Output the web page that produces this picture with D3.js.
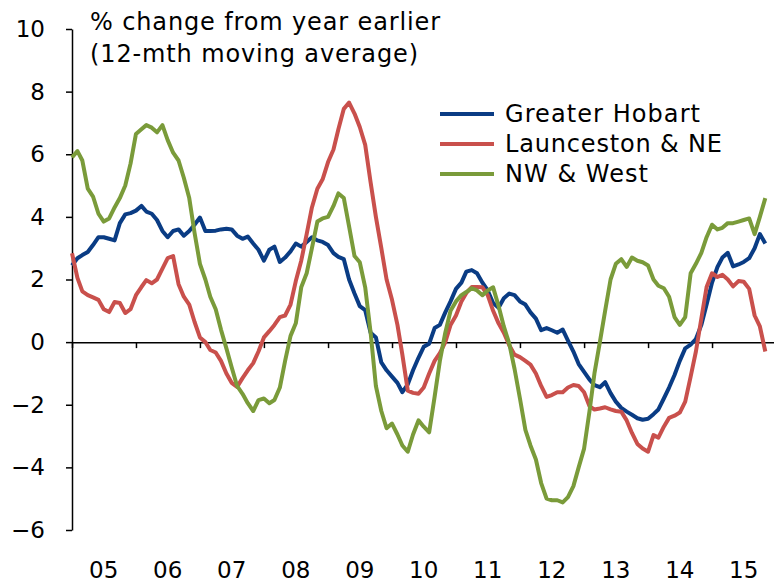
<!DOCTYPE html>
<html>
<head>
<meta charset="utf-8">
<script src="https://cdnjs.cloudflare.com/ajax/libs/d3/7.8.5/d3.min.js"></script>
<style>
  html, body { margin: 0; padding: 0; background: #ffffff; }
  svg { display: block; }
  text { font-family: "DejaVu Sans", sans-serif; fill: #000; }
</style>
</head>
<body>
<div id="chart"></div>
<script>
// ---- DATA (monthly, Jan 2005 – Nov 2015) ----
const startYear = 2005;
const startMonth = 0;

const greaterHobart = [
  2.45, 2.68, 2.78, 2.88, 3.1, 3.35, 3.35, 3.3, 3.25, 3.8,
  4.08, 4.12, 4.2, 4.35, 4.17, 4.1, 3.9, 3.55, 3.35, 3.55,
  3.6, 3.4, 3.55, 3.75, 3.98, 3.55, 3.55, 3.56, 3.6, 3.62,
  3.6, 3.4, 3.3, 3.37, 3.15, 2.95, 2.6, 2.95, 3.05, 2.56,
  2.7, 2.9, 3.15, 3.05, 3.2, 3.35, 3.25, 3.2, 3.1, 2.84,
  2.72, 2.65, 2.0, 1.55, 1.15, 1.02, 0.3, 0.15, -0.65, -0.9,
  -1.1, -1.3, -1.6, -1.35, -0.9, -0.5, -0.15, -0.05, 0.45, 0.55,
  0.95, 1.3, 1.7, 1.9, 2.25, 2.3, 2.2, 1.9, 1.65, 1.25,
  1.1, 1.4, 1.55, 1.5, 1.3, 1.2, 0.95, 0.75, 0.38, 0.45,
  0.38, 0.3, 0.4, 0.05, -0.3, -0.7, -0.95, -1.2, -1.37, -1.44,
  -1.28, -1.63, -1.9, -2.1, -2.22, -2.32, -2.43, -2.48, -2.45, -2.3,
  -2.15, -1.8, -1.45, -1.05, -0.6, -0.2, -0.08, 0.1, 0.55, 1.2,
  1.9, 2.4, 2.7, 2.85, 2.42, 2.48, 2.56, 2.68, 3.0, 3.45, 3.15
];

const launcestonNE = [
  2.84, 2.05, 1.62, 1.5, 1.43, 1.35, 1.05, 0.96, 1.28, 1.25,
  0.93, 1.05, 1.5, 1.76, 1.98, 1.88, 2.0, 2.35, 2.68, 2.75,
  1.85, 1.45, 1.2, 0.65, 0.15, 0.0, -0.25, -0.33, -0.6, -1.0,
  -1.3, -1.43, -1.15, -0.9, -0.67, -0.3, 0.15, 0.35, 0.55, 0.8,
  0.85, 1.2, 1.95, 2.6, 3.45, 4.3, 4.9, 5.2, 5.75, 6.15,
  6.8, 7.45, 7.65, 7.3, 6.87, 6.3, 5.1, 4.0, 3.0, 2.0,
  1.35, 0.55, -0.4, -1.55, -1.62, -1.65, -1.45, -1.0, -0.6, -0.35,
  0.0, 0.55, 0.85, 1.3, 1.57, 1.76, 1.76, 1.75, 1.5, 1.0,
  0.6, 0.3, -0.1, -0.4, -0.48, -0.6, -0.72, -1.0, -1.4, -1.75,
  -1.69, -1.6, -1.6, -1.45, -1.37, -1.4, -1.6, -2.05, -2.15, -2.12,
  -2.08, -2.15, -2.2, -2.22, -2.5, -2.9, -3.25, -3.4, -3.5, -2.97,
  -3.05, -2.7, -2.42, -2.35, -2.25, -1.9, -1.1, -0.3, 0.75, 1.76,
  2.2, 2.08, 2.15, 2.0, 1.78, 1.95, 1.93, 1.7, 0.85, 0.5, -0.3
];

const nwWest = [
  5.9, 6.1, 5.8, 4.9, 4.65, 4.1, 3.85, 3.95, 4.3, 4.6,
  5.0, 5.7, 6.65, 6.8, 6.93, 6.85, 6.7, 6.93, 6.45, 6.05,
  5.8, 5.25, 4.6, 3.5, 2.5, 2.0, 1.45, 1.05, 0.4, -0.2,
  -0.8, -1.4, -1.65, -1.95, -2.2, -1.85, -1.8, -1.95, -1.85, -1.45,
  -0.6, 0.2, 0.6, 1.75, 2.2, 3.0, 3.85, 3.95, 4.0, 4.35,
  4.75, 4.6, 3.7, 2.75, 2.55, 1.75, 0.3, -1.4, -2.2, -2.75,
  -2.6, -2.95, -3.3, -3.5, -2.95, -2.5, -2.7, -2.88, -1.75, -0.6,
  0.3, 1.0, 1.3, 1.5, 1.6, 1.72, 1.65, 1.5, 1.65, 1.75,
  1.15, 0.5, -0.05, -0.85, -1.8, -2.8, -3.3, -3.75, -4.5, -5.0,
  -5.05, -5.05, -5.12, -4.95, -4.6, -4.0, -3.4, -2.2, -1.0, 0.0,
  1.0, 2.0, 2.5, 2.65, 2.4, 2.7, 2.6, 2.55, 2.45, 2.0,
  1.8, 1.72, 1.45, 0.8, 0.55, 0.8, 2.2, 2.5, 2.85, 3.35,
  3.75, 3.6, 3.65, 3.8, 3.8, 3.85, 3.9, 3.95, 3.45, 4.0, 4.6
];

const seriesNames = ["Greater Hobart", "Launceston & NE", "NW & West"];
const seriesColors = ["#0a3c84", "#c9504c", "#7a9b3a"];
const yTicks = [-6, -4, -2, 0, 2, 4, 6, 8, 10];
const yearLabels = ["05", "06", "07", "08", "09", "10", "11", "12", "13", "14", "15"];
const titleLines = ["% change from year earlier", "(12-mth moving average)"];

// ---- CHART ----
const W = 774, H = 583;
const svg = d3.select("#chart").append("svg").attr("width", W).attr("height", H);

const x = d3.scaleTime()
  .domain([new Date(2005, 0, 1), new Date(2016, 0, 1)])
  .range([72, 776]);
const y = d3.scaleLinear().domain([-6, 10]).range([530, 29]);

const dateOf = i => new Date(startYear, startMonth + i, 1);
const allSeries = [greaterHobart, launcestonNE, nwWest];

// Y axis
const yAxis = d3.axisLeft(y).tickValues(yTicks).tickSize(6).tickSizeOuter(0).tickFormat(d3.format("d"));
const gy = svg.append("g").attr("transform", "translate(72,0)").call(yAxis);
gy.select(".domain").attr("stroke", "#000").attr("stroke-width", 1.5);
gy.selectAll(".tick line").attr("stroke", "#000").attr("stroke-width", 1.5);
gy.selectAll(".tick text").attr("x", -27).attr("font-size", 23).attr("font-family", "DejaVu Sans").attr("fill", "#000");

// X axis along zero
const yearTicks = d3.range(2005, 2017).map(yr => new Date(yr, 0, 1));
const xAxis = d3.axisBottom(x).tickValues(yearTicks).tickSize(6).tickSizeOuter(0).tickFormat("");
const gx = svg.append("g").attr("transform", `translate(0,${y(0)})`).call(xAxis);
gx.select(".domain").attr("stroke", "#000").attr("stroke-width", 1.5);
gx.selectAll(".tick line").attr("stroke", "#000").attr("stroke-width", 1.5);

// Year labels at mid-year at bottom
svg.append("g").selectAll("text").data(yearLabels).join("text")
  .attr("x", (d, i) => x(new Date(2005 + i, 6, 1)))
  .attr("y", 578)
  .attr("text-anchor", "middle")
  .attr("font-size", 23)
  .text(d => d);

// Lines
const line = d3.line().x((d, i) => x(dateOf(i))).y(d => y(d));
allSeries.forEach((s, k) => {
  svg.append("path").datum(s)
    .attr("fill", "none")
    .attr("stroke", seriesColors[k])
    .attr("stroke-width", 4)
    .attr("stroke-linejoin", "round")
    .attr("d", line);
});

// Title
const titleWidths = [350, 328];
svg.append("g").selectAll("text").data(titleLines).join("text")
  .attr("x", 90)
  .attr("y", (d, i) => 30 + i * 32)
  .attr("font-size", 24)
  .attr("textLength", (d, i) => titleWidths[i])
  .attr("lengthAdjust", "spacing")
  .text(d => d);

// Legend
const legendWidths = [195, 217, 143];
const lg = svg.append("g");
seriesNames.forEach((n, k) => {
  const yy = 114 + k * 30;
  lg.append("line").attr("x1", 440).attr("x2", 494).attr("y1", yy).attr("y2", yy)
    .attr("stroke", seriesColors[k]).attr("stroke-width", 4);
  lg.append("text").attr("x", 505).attr("y", yy + 8).attr("font-size", 24)
    .attr("textLength", legendWidths[k]).attr("lengthAdjust", "spacing").text(n);
});
</script>
</body>
</html>
